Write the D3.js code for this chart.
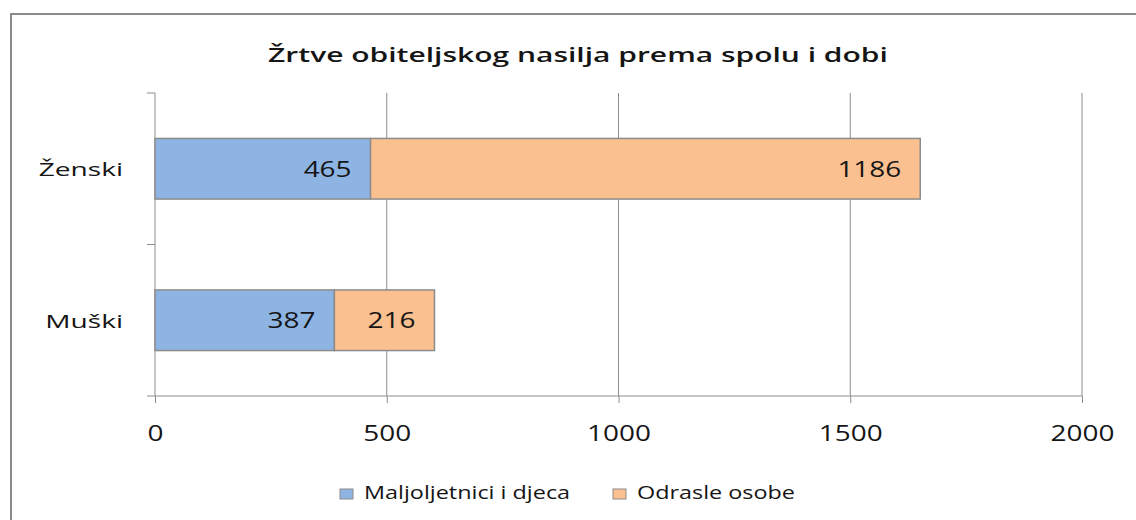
<!DOCTYPE html>
<head>
  <meta charset="utf-8">
  <script src="https://d3js.org/d3.v7.min.js"></script>
  <style>
    body { margin:0; background:#fff; }
    text { font-family: "Open Sans", "DejaVu Sans", sans-serif; fill:#151515; }
  </style>
</head>
<body>
<script>
  var categories = ["Ženski", "Muški"]
  var seriesNames = ["Maljoljetnici i djeca", "Odrasle osobe"]
  var minors = [465, 387]
  var adults = [1186, 216]
  var xTicks = [0, 500, 1000, 1500, 2000]
  var colors = ["#8eb4e3", "#fac090"]

  // the original is drawn wide, so text gets stretched sideways around its x
  function stretch(sel, k) {
    sel.each(function() {
      var t = d3.select(this)
      var x0 = +t.attr("x") || 0
      t.attr("transform", "translate(" + (x0 * (1 - k)) + ",0) scale(" + k + ",1)")
    })
  }

  var svg = d3.select("body").append("svg")
    .attr("width", 1136)
    .attr("height", 520)

  svg.append("rect")
    .attr("x", 11).attr("y", 14)
    .attr("width", 1140).attr("height", 520)
    .attr("fill", "none")
    .attr("stroke", "#8a8a8a")
    .attr("stroke-width", 2)

  var title = svg.append("text")
    .attr("x", 578).attr("y", 62)
    .attr("text-anchor", "middle")
    .style("font-size", "20px")
    .style("font-weight", 600)
    .text("Žrtve obiteljskog nasilja prema spolu i dobi")
  stretch(title, 1.5)

  var x = d3.scaleLinear().domain([0, 2000]).range([155, 1082])
  var y = d3.scaleBand().domain(categories).range([93, 396]).paddingInner(0.6).paddingOuter(0.3)

  svg.selectAll(".grid").data(xTicks.slice(1)).enter()
    .append("line")
    .attr("x1", d => x(d)).attr("x2", d => x(d))
    .attr("y1", 93).attr("y2", 396)
    .attr("stroke", "#8c8c8c")

  var xAxis = d3.axisBottom(x).tickValues(xTicks).tickFormat(d3.format("d")).tickSize(7).tickPadding(23)
  var gx = svg.append("g").attr("transform", "translate(0,396)").call(xAxis)
  gx.select(".domain").attr("stroke", "#8c8c8c").attr("d", "M155,0H1082")
  gx.selectAll(".tick line").attr("stroke", "#8c8c8c")
  gx.selectAll(".tick text")
    .style("font-size", "21px")
    .style("font-family", "\"Open Sans\", sans-serif")
    .attr("fill", "#151515")
  stretch(gx.selectAll(".tick text"), 1.33)

  var yAxis = d3.axisLeft(y).tickSize(0).tickPadding(32)
  var gy = svg.append("g").attr("transform", "translate(155,0)").call(yAxis)
  gy.select(".domain").attr("stroke", "#8c8c8c").attr("d", "M0,93V396")
  gy.selectAll(".tick text")
    .style("font-size", "19px")
    .style("font-family", "\"Open Sans\", sans-serif")
    .attr("fill", "#151515")
    .attr("dy", "0.4em")
  stretch(gy.selectAll(".tick text"), 1.48)

  var seps = [93, (y(categories[0]) + y.bandwidth() + y(categories[1])) / 2, 396]
  svg.selectAll(".sep").data(seps).enter()
    .append("line")
    .attr("x1", 147).attr("x2", 155)
    .attr("y1", d => d).attr("y2", d => d)
    .attr("stroke", "#8c8c8c")

  var segs = []
  categories.forEach(function(c, i) {
    segs.push({ cat: c, s: 0, x0: 0, x1: minors[i], v: minors[i] })
    segs.push({ cat: c, s: 1, x0: minors[i], x1: minors[i] + adults[i], v: adults[i] })
  })

  svg.selectAll(".bar").data(segs).enter()
    .append("rect")
    .attr("x", d => x(d.x0))
    .attr("y", d => y(d.cat))
    .attr("width", d => x(d.x1) - x(d.x0))
    .attr("height", y.bandwidth())
    .attr("fill", d => colors[d.s])
    .attr("stroke", "#8c8c8c")
    .attr("stroke-width", 1.5)

  var lbl = svg.selectAll(".lbl").data(segs).enter()
    .append("text")
    .attr("x", d => x(d.x1) - 19)
    .attr("y", d => y(d.cat) + y.bandwidth() / 2 + 8)
    .attr("text-anchor", "end")
    .style("font-size", "21px")
    .text(d => d.v)
  stretch(lbl, 1.33)

  var legX = [340, 613]
  var leg = svg.selectAll(".leg").data(seriesNames).enter()
    .append("g")
    .attr("transform", (d, i) => "translate(" + legX[i] + ",489)")
  leg.append("rect")
    .attr("width", 13).attr("height", 10)
    .attr("fill", (d, i) => colors[i])
    .attr("stroke", "#8c8c8c")
  var legText = leg.append("text")
    .attr("x", 24).attr("y", 10)
    .style("font-size", "18px")
    .text(d => d)
  stretch(legText, 1.3)
</script>
</body>
